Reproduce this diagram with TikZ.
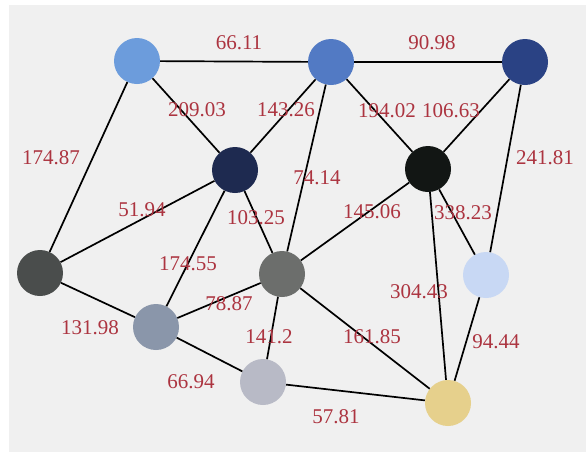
\documentclass[tikz,border=0pt]{standalone}
\usepackage{fontspec}
\setmainfont{Liberation Serif}
\begin{document}
\begin{tikzpicture}[x=1pt,y=-1pt,
  vertex/.style={circle,inner sep=0pt,minimum size=46pt,draw=none},
  edge/.style={draw=black,line width=1.7pt},
  weight/.style={text=wred,font=\fontsize{21}{21}\selectfont,inner sep=0pt}]
\definecolor{wred}{RGB}{172,52,64}
\definecolor{panel}{RGB}{240,240,240}
\definecolor{cA}{RGB}{108,156,220}
\definecolor{cB}{RGB}{82,122,196}
\definecolor{cC}{RGB}{42,66,132}
\definecolor{cD}{RGB}{30,42,80}
\definecolor{cE}{RGB}{18,22,20}
\definecolor{cF}{RGB}{74,77,76}
\definecolor{cG}{RGB}{108,110,108}
\definecolor{cH}{RGB}{200,216,244}
\definecolor{cI}{RGB}{138,150,170}
\definecolor{cJ}{RGB}{184,186,198}
\definecolor{cK}{RGB}{230,208,140}
\useasboundingbox (0,0) rectangle (586,453);
\fill[white] (0,0) rectangle (586,453);
\fill[panel] (9,5) rectangle (586,452);
% vertices
\node[vertex,fill=cA] (a) at (137,61) {};
\node[vertex,fill=cB] (b) at (331,62) {};
\node[vertex,fill=cC] (c) at (525,62) {};
\node[vertex,fill=cD] (d) at (235,170) {};
\node[vertex,fill=cE] (e) at (428,169) {};
\node[vertex,fill=cF] (f) at (40,273) {};
\node[vertex,fill=cG] (g) at (282,274) {};
\node[vertex,fill=cH] (h) at (486,275) {};
\node[vertex,fill=cI] (i) at (156,327) {};
\node[vertex,fill=cJ] (j) at (263,382) {};
\node[vertex,fill=cK] (k) at (448,403) {};
% connections
\draw[edge] (a) -- (b);
\draw[edge] (b) -- (c);
\draw[edge] (a) -- (d);
\draw[edge] (a) -- (f);
\draw[edge] (b) -- (d);
\draw[edge] (b) -- (g);
\draw[edge] (b) -- (e);
\draw[edge] (c) -- (e);
\draw[edge] (c) -- (h);
\draw[edge] (d) -- (f);
\draw[edge] (d) -- (i);
\draw[edge] (d) -- (g);
\draw[edge] (e) -- (g);
\draw[edge] (e) -- (h);
\draw[edge] (e) -- (k);
\draw[edge] (f) -- (i);
\draw[edge] (g) -- (i);
\draw[edge] (g) -- (j);
\draw[edge] (g) -- (k);
\draw[edge] (i) -- (j);
\draw[edge] (j) -- (k);
\draw[edge] (h) -- (k);
% weights
\node[weight] (wab) at (239,43) {66.11};
\node[weight] (wbc) at (432,43) {90.98};
\node[weight] (wad) at (197,110) {209.03};
\node[weight] (wbd) at (286,110) {143.26};
\node[weight] (waf) at (51,158) {174.87};
\node[weight] (wbe) at (387,111) {194.02};
\node[weight] (wce) at (451,111) {106.63};
\node[weight] (wch) at (545,158) {241.81};
\node[weight] (wbg) at (317,178) {74.14};
\node[weight] (wdf) at (142,210) {51.94};
\node[weight] (wdg) at (256,218) {103.25};
\node[weight] (weg) at (372,212) {145.06};
\node[weight] (weh) at (463,213) {338.23};
\node[weight] (wdi) at (188,264) {174.55};
\node[weight] (wgi) at (229,304) {78.87};
\node[weight] (wfi) at (90,328) {131.98};
\node[weight] (wgj) at (269,337) {141.2};
\node[weight] (wij) at (191,382) {66.94};
\node[weight] (wek) at (419,292) {304.43};
\node[weight] (wgk) at (372,337) {161.85};
\node[weight] (whk) at (496,342) {94.44};
\node[weight] (wjk) at (336,417) {57.81};
\end{tikzpicture}
\end{document}
